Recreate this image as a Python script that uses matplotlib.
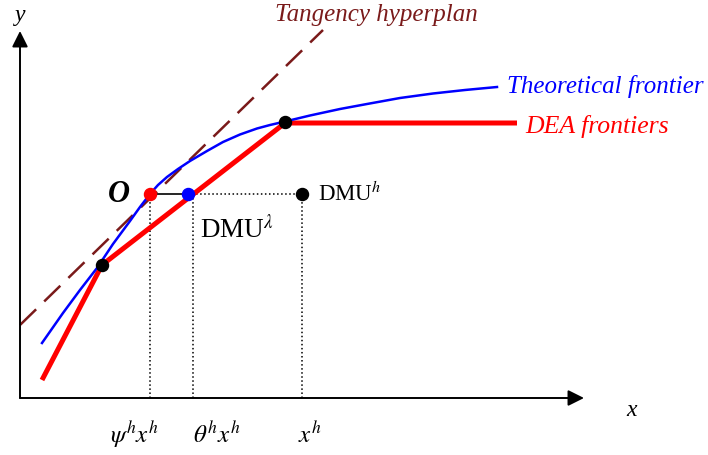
import matplotlib.pyplot as plt

plt.rcParams["font.family"] = ["Liberation Serif", "DejaVu Serif"]
plt.rcParams["mathtext.fontset"] = "stix"

# frontier data (input x, output y)
blue_x = [22, 43, 60, 77, 93, 110, 120, 130, 138, 147, 158, 170, 187, 203, 220, 237, 250,
          265, 290, 320, 347, 380, 413, 445, 477]
blue_y = [55, 85, 108, 130, 154, 177, 191, 204, 213, 221, 229, 237, 247, 256, 263.5, 269.5,
          273, 276.5, 282.5, 289, 294, 300, 304.5, 308, 311]

red_x = [22, 82, 265, 497]
red_y = [18, 133, 275, 275]

tangent_x = [0, 303]
tangent_y = [73, 368]

# units
obs_x = [82, 265]
obs_y = [133, 276]
dmu_h = (282, 204)
point_o = (130, 204)
dmu_lambda = (168, 204)

proj_x = [130, 173, 282]
tick_labels = [r"$\psi^h x^h$", r"$\theta^h x^h$", r"$x^h$"]
tick_label_x = [114, 197, 290]

fig = plt.figure(figsize=(7.08, 4.55), dpi=100)
ax = fig.add_axes([0, 0, 1, 1])
ax.set_xlim(-20, 688)
ax.set_ylim(-57, 398)
ax.axis("off")

# axes with arrows
ax.annotate("", xy=(564, 0), xytext=(0, 0),
            arrowprops=dict(arrowstyle="-|>", mutation_scale=24, lw=1.4, color="black",
                            shrinkA=0, shrinkB=0))
ax.annotate("", xy=(0, 367), xytext=(0, 0),
            arrowprops=dict(arrowstyle="-|>", mutation_scale=24, lw=1.4, color="black",
                            shrinkA=0, shrinkB=0))
ax.text(0, 383, "y", fontsize=17, style="italic", ha="center", va="center")
ax.text(612, -12, "x", fontsize=17, style="italic", ha="center", va="center")

# projection lines
for px in proj_x:
    ax.plot([px, px], [0, dmu_h[1]], color="black", lw=1.1, ls=":")
ax.plot([dmu_lambda[0], dmu_h[0]], [dmu_h[1], dmu_h[1]], color="black", lw=1.1, ls=":")
ax.plot([point_o[0], dmu_lambda[0]], [point_o[1], dmu_lambda[1]], color="black", lw=1.2)

ax.plot(tangent_x, tangent_y, color="#7a1a1a", lw=1.8, dashes=(9, 4.5))
ax.plot(red_x, red_y, color="red", lw=3.6, solid_capstyle="butt", zorder=3)
ax.plot(blue_x, blue_y, color="blue", lw=1.8, zorder=4)

ax.scatter(obs_x, obs_y, s=75, color="black", zorder=5)
ax.scatter([dmu_h[0]], [dmu_h[1]], s=75, color="black", zorder=5)
ax.scatter([point_o[0]], [point_o[1]], s=75, color="red", zorder=5)
ax.scatter([dmu_lambda[0]], [dmu_lambda[1]], s=75, color="blue", zorder=5)

ax.text(255, 383, "Tangency hyperplan", fontsize=18, style="italic", color="#7a1a1a",
        ha="left", va="center")
ax.text(487, 311, "Theoretical frontier", fontsize=18, style="italic", color="blue",
        ha="left", va="center")
ax.text(505, 272, "DEA frontiers", fontsize=18.5, style="italic", color="red",
        ha="left", va="center")

ax.text(99, 204, "O", fontsize=22, style="italic", weight="bold", ha="center", va="center")
ax.text(298, 204, r"DMU$^h$", fontsize=16.5, ha="left", va="center")
ax.text(180, 168, r"DMU$^\lambda$", fontsize=19.5, ha="left", va="center")

for lx, lab in zip(tick_label_x, tick_labels):
    ax.text(lx, -37, lab, fontsize=18, ha="center", va="center")

fig.savefig("out.png", dpi=100)
